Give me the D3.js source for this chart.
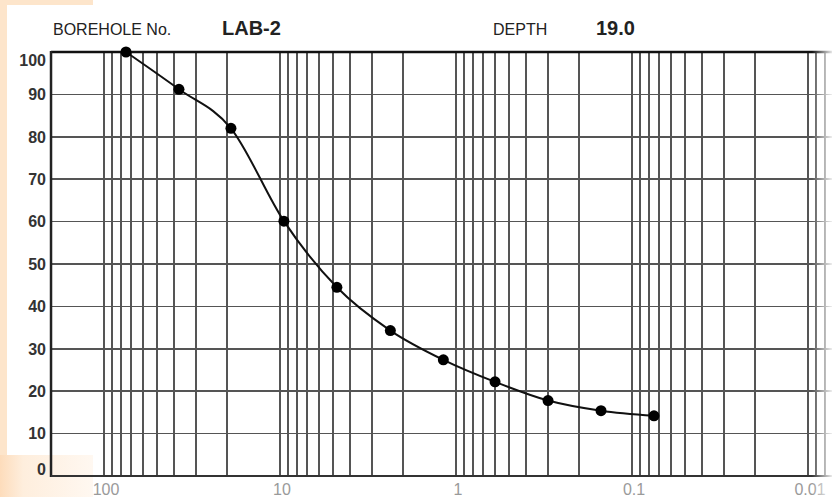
<!DOCTYPE html>
<html>
<head>
<meta charset="UTF-8">
<title>Grain size</title>
<script src="https://cdn.jsdelivr.net/npm/d3@7"></script>
<style>
  body { margin: 0; background: #fff; }
  svg { display: block; font-family: "Liberation Sans", Arial, sans-serif; }
  .grid line { stroke: #555; stroke-width: 1.7; shape-rendering: crispEdges; }
</style>
</head>
<body>
<div id="root"></div>
<script>
  // sieve sizes (mm) and percent passing
  const sieveSizes = [75, 37.5, 19, 9.5, 4.75, 2.36, 1.18, 0.6, 0.3, 0.15, 0.075]
  const percentPassing = [100, 91.2, 82, 60.1, 44.5, 34.3, 27.4, 22.2, 17.8, 15.4, 14.2]
  const yTicks = [0, 10, 20, 30, 40, 50, 60, 70, 80, 90, 100]
  const xLabels = [100, 10, 1, 0.1, 0.01]
  const boreholeNo = "LAB-2"
  const depth = "19.0"

  const width = 832, height = 497
  const svg = d3.select("#root").append("svg").attr("width", width).attr("height", height)

  // log axis runs from coarse (left) to fine (right)
  const x = d3.scaleLog().domain([100, 0.01]).range([104, 808])
  const y = d3.scaleLinear().domain([0, 100]).range([476, 52])
  const left = x(200), right = width + 5

  // peach page glow on the left
  const defs = svg.append("defs")
  const g1 = defs.append("linearGradient").attr("id", "glow").attr("x1", 0).attr("x2", 1)
  g1.append("stop").attr("offset", 0).attr("stop-color", "#fddcbb")
  g1.append("stop").attr("offset", 0.25).attr("stop-color", "#feeedd")
  g1.append("stop").attr("offset", 1).attr("stop-color", "#fff8f1")
  const g2 = defs.append("linearGradient").attr("id", "fade").attr("x1", 0).attr("x2", 1)
  g2.append("stop").attr("offset", 0).attr("stop-color", "#fff").attr("stop-opacity", 0)
  g2.append("stop").attr("offset", 1).attr("stop-color", "#fff").attr("stop-opacity", 0.9)

  svg.append("rect").attr("x", 0).attr("y", 0).attr("width", 7).attr("height", height).attr("fill", "#fde5cb")
  svg.append("rect").attr("x", 0).attr("y", 0).attr("width", 93).attr("height", 5).attr("fill", "#fde5cb")
  svg.append("rect").attr("x", 0).attr("y", 455).attr("width", 93).attr("height", height - 455).attr("fill", "url(#glow)")

  // header
  svg.append("text").attr("x", 53).attr("y", 35).attr("font-size", 16).attr("fill", "#222").text("BOREHOLE No.")
  svg.append("text").attr("x", 222).attr("y", 35).attr("font-size", 20).attr("font-weight", "bold").attr("fill", "#222").text(boreholeNo)
  svg.append("text").attr("x", 493).attr("y", 35).attr("font-size", 16).attr("fill", "#222").text("DEPTH")
  svg.append("text").attr("x", 596).attr("y", 35).attr("font-size", 20).attr("font-weight", "bold").attr("fill", "#222").text(depth)

  // vertical grid: every 1..9 x decade
  const vLines = []
  for (let e = 2; e >= -3; e--) {
    for (let k = 9; k >= 1; k--) {
      const v = k * Math.pow(10, e)
      const px = x(v)
      if (px > left + 2 && px < right) vLines.push(v)
    }
  }
  const grid = svg.append("g").attr("class", "grid")
  grid.selectAll("line.v").data(vLines).join("line").attr("class", "v")
    .attr("x1", d => x(d)).attr("x2", d => x(d)).attr("y1", y(100)).attr("y2", y(0))
  grid.selectAll("line.h").data(yTicks).join("line").attr("class", "h")
    .attr("x1", left).attr("x2", right).attr("y1", d => y(d)).attr("y2", d => y(d))

  // frame
  svg.append("line").attr("x1", left).attr("x2", right).attr("y1", y(100)).attr("y2", y(100)).attr("stroke", "#111").attr("stroke-width", 2.5)
  svg.append("line").attr("x1", left).attr("x2", left).attr("y1", y(100) - 1).attr("y2", y(0) + 1).attr("stroke", "#222").attr("stroke-width", 2.5)
  svg.append("line").attr("x1", left).attr("x2", right).attr("y1", y(0)).attr("y2", y(0)).attr("stroke", "#333").attr("stroke-width", 2)

  // y labels
  svg.append("g").selectAll("text").data(yTicks).join("text")
    .attr("x", 46).attr("y", d => Math.min(Math.max(y(d), 60), 469))
    .attr("dy", "0.36em").attr("text-anchor", "end")
    .attr("font-size", 16).attr("font-weight", "bold").attr("fill", "#333")
    .text(d => d)

  // x labels
  svg.append("g").selectAll("text").data(xLabels).join("text")
    .attr("x", d => x(d) + 2).attr("y", 495).attr("text-anchor", "middle")
    .attr("font-size", 16).attr("fill", "#9a9a9a")
    .text(d => d)

  // grading curve
  const pts = sieveSizes.map((s, i) => [s, percentPassing[i]])
  svg.append("path").datum(pts)
    .attr("fill", "none").attr("stroke", "#111").attr("stroke-width", 2)
    .attr("d", d3.line().x(d => x(d[0])).y(d => y(d[1])).curve(d3.curveMonotoneX))
  svg.append("g").selectAll("circle").data(pts).join("circle")
    .attr("cx", d => x(d[0])).attr("cy", d => y(d[1])).attr("r", 5.5).attr("fill", "#000")

  // right edge fade
  svg.append("rect").attr("x", 812).attr("y", 40).attr("width", 20).attr("height", 460).attr("fill", "url(#fade)")
</script>
</body>
</html>
